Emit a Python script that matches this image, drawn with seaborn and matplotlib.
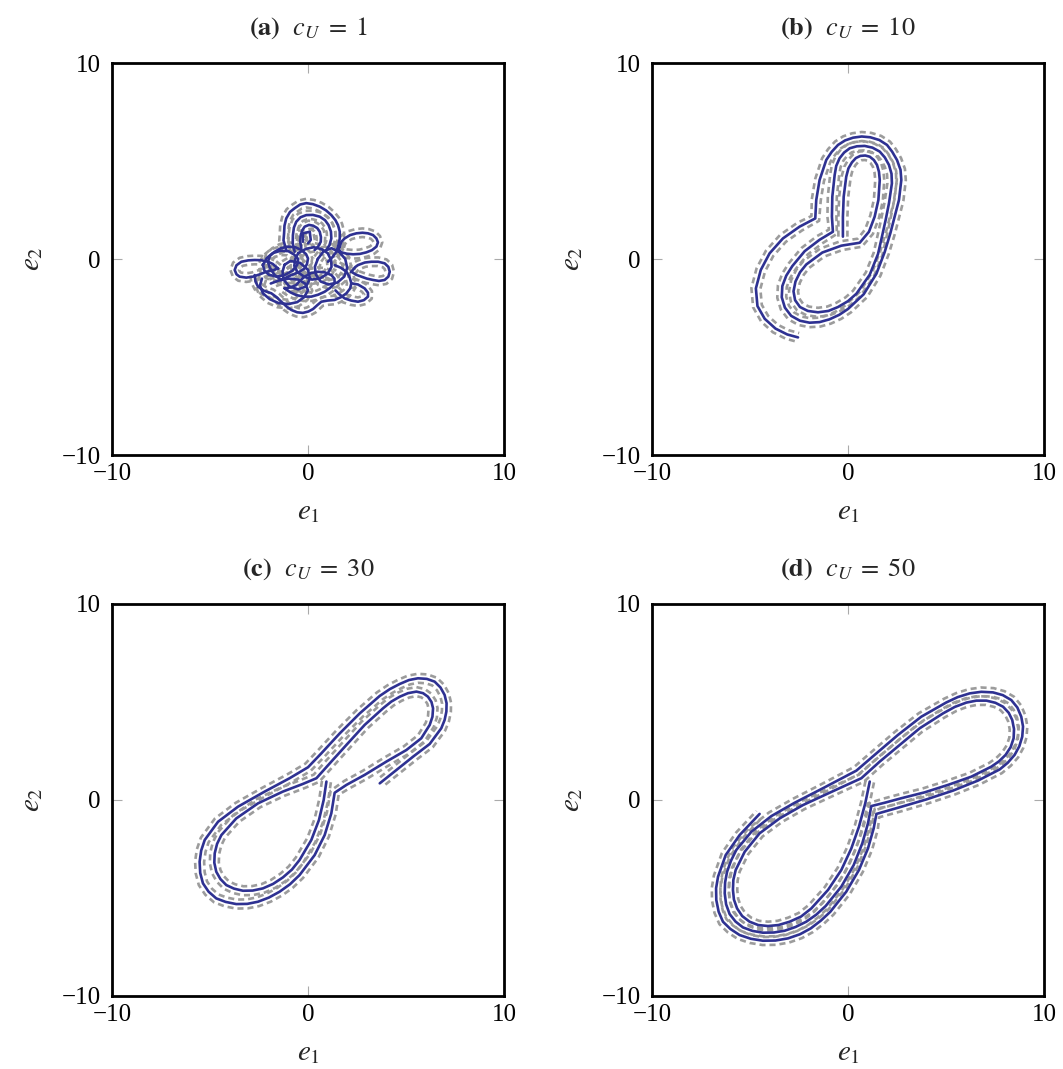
import numpy as np
import pandas as pd
import matplotlib
matplotlib.use("Agg")
import matplotlib.pyplot as plt
import seaborn as sns

# ---------------- data ----------------
TITLES = [r"$\mathbf{(a)}$  $c_U\;=\;1$", r"$\mathbf{(b)}$  $c_U\;=\;10$",
          r"$\mathbf{(c)}$  $c_U\;=\;30$", r"$\mathbf{(d)}$  $c_U\;=\;50$"]
TICKS = [-10, 0, 10]
TUBE_RADIUS = [0.22, 0.23, 0.23, 0.22]

# panel (a): tangled loops, one list per loop
A_E1 = [
    [-1.11, -1.25, -1.22, -1.20, -1.11, -0.92, -0.68, -0.40, -0.09, 0.25, 0.60, 0.92, 1.19, 1.40, 1.53, 1.62, 1.62, 1.55, 1.45, 1.25, 1.02],
    [-0.68, -0.78, -0.77, -0.72, -0.60, -0.38, -0.09, 0.25, 0.60, 0.87, 1.05, 1.17, 1.19, 1.10, 0.94],
    [-0.34, -0.40, -0.37, -0.28, -0.17, 0.05, 0.26, 0.47, 0.60, 0.66, 0.65, 0.52, 0.34],
    [-0.26, -0.26, 0.09, 0.14, 0.00],
    [1.62, 1.70, 1.87, 2.15, 2.47, 2.78, 3.06, 3.32, 3.49, 3.57, 3.49, 3.26, 2.98, 2.65, 2.30, 1.98, 1.70, 1.55, 1.62],
    [2.21, 2.40, 2.55, 2.90, 3.23, 3.58, 3.91, 4.10, 4.17, 4.10, 3.91, 3.62, 3.32, 3.00, 2.72, 2.45, 2.21],
    [-1.53, -1.80, -2.04, -2.40, -2.72, -3.05, -3.40, -3.65, -3.74, -3.65, -3.49, -3.15, -2.81, -2.45, -2.13, -1.80, -1.53],
    [-2.72, -2.68, -2.55, -2.25, -1.87, -1.60, -1.36, -1.10, -0.85, -0.55, -0.26, 0.02, 0.26, 0.48, 0.68, 1.00, 1.36, 1.68, 1.96, 2.15, 2.21, 2.12, 1.96, 1.68, 1.36],
    [-1.36, -1.70, -1.95, -2.04, -1.95, -1.70, -1.38, -1.02, -0.65, -0.34, -0.10, 0.00, -0.05, -0.17, -0.48, -0.85, -1.12, -1.36],
    [-1.19, -0.90, -0.60, -0.22, 0.17, 0.52, 0.85, 1.12, 1.36, 1.35, 1.19, 0.85, 0.51, 0.15, -0.17, -0.40, -0.60, -0.90, -1.19],
    [2.21, 2.55, 2.89, 3.06, 3.06, 2.85, 2.55, 2.20, 1.87, 1.60, 1.40],
    [-2.30, -2.10, -1.80, -1.40, -1.00, -0.70, -0.50, -0.55, -0.80, -1.20, -1.60, -2.00, -2.22, -2.30],
    [-0.50, -0.10, 0.30, 0.70, 1.00, 1.18, 1.20, 1.00, 0.60, 0.20, -0.20, -0.55, -0.70, -0.65, -0.50],
    [0.50, 0.80, 1.20, 1.60, 1.90, 2.00, 1.85, 1.50, 1.05, 0.65, 0.40, 0.35, 0.50],
    [-2.35, -2.45, -2.30, -1.95, -1.50, -1.00, -0.55, -0.20, 0.00, -0.15, -0.50, -1.00, -1.50, -1.90],
    [-1.20, -0.90, -0.40, 0.00, 0.10, -0.10, -0.50, -0.95, -1.25, -1.30, -1.20],
]
A_E2 = [
    [0.46, 0.95, 1.31, 1.70, 2.07, 2.40, 2.59, 2.78, 2.85, 2.80, 2.67, 2.48, 2.24, 1.98, 1.73, 1.40, 1.05, 0.70, 0.37, 0.10, -0.14],
    [0.37, 0.80, 1.22, 1.60, 1.90, 2.13, 2.24, 2.25, 2.16, 1.98, 1.73, 1.40, 1.05, 0.72, 0.46],
    [0.54, 0.90, 1.22, 1.48, 1.65, 1.74, 1.70, 1.58, 1.39, 1.12, 0.88, 0.64, 0.46],
    [0.88, 1.31, 1.39, 0.97, 0.80],
    [0.63, 0.88, 1.05, 1.22, 1.31, 1.34, 1.31, 1.22, 1.05, 0.85, 0.63, 0.45, 0.34, 0.26, 0.24, 0.27, 0.34, 0.50, 0.63],
    [-0.65, -0.42, -0.31, -0.18, -0.14, -0.14, -0.22, -0.40, -0.65, -0.90, -1.07, -1.12, -1.07, -1.00, -0.90, -0.80, -0.65],
    [-0.48, -0.25, -0.14, -0.06, -0.05, -0.07, -0.14, -0.32, -0.56, -0.78, -0.90, -0.95, -0.90, -0.78, -0.65, -0.58, -0.48],
    [-0.82, -1.15, -1.41, -1.62, -1.75, -1.95, -2.18, -2.42, -2.60, -2.72, -2.75, -2.68, -2.55, -2.35, -2.18, -2.12, -2.09, -1.95, -1.75, -1.50, -1.24, -0.92, -0.65, -0.45, -0.31],
    [-1.07, -0.82, -0.45, -0.14, 0.15, 0.37, 0.55, 0.63, 0.60, 0.46, 0.25, 0.03, -0.25, -0.48, -0.68, -0.82, -0.95, -1.07],
    [-1.50, -1.70, -1.84, -1.92, -1.92, -1.82, -1.67, -1.48, -1.24, -1.00, -0.82, -0.68, -0.65, -0.72, -0.90, -1.10, -1.33, -1.45, -1.50],
    [-1.24, -1.30, -1.50, -1.72, -1.92, -2.10, -2.18, -2.12, -2.01, -1.80, -1.60],
    [-0.30, 0.05, 0.30, 0.42, 0.40, 0.22, 0.00, -0.30, -0.60, -0.82, -0.90, -0.80, -0.60, -0.30],
    [0.30, 0.52, 0.60, 0.50, 0.30, -0.05, -0.40, -0.75, -1.00, -1.05, -0.90, -0.65, -0.35, 0.00, 0.30],
    [0.00, 0.40, 0.55, 0.35, 0.00, -0.45, -0.90, -1.20, -1.30, -1.15, -0.80, -0.40, 0.00],
    [-1.00, -1.35, -1.75, -2.05, -2.25, -2.30, -2.20, -1.95, -1.60, -1.25, -1.05, -1.00, -1.10, -1.25],
    [-0.30, -0.10, -0.20, -0.55, -1.00, -1.40, -1.55, -1.40, -1.05, -0.65, -0.30],
]

# panel (b)
B_E1 = [-0.26, -0.26, -0.22, -0.09, 0.02, 0.20, 0.40, 0.63, 0.88, 1.11, 1.32, 1.48, 1.58, 1.62, 1.55, 1.36, 1.07, 0.60,
        -0.34, -1.31, -2.13, -2.45, -2.68, -2.78, -2.70, -2.45, -2.05, -1.53, -1.00, -0.51, 0.00, 0.43, 1.11, 1.53, 1.75, 1.92,
        2.09, 2.24, 2.22, 2.09, 1.88, 1.62, 1.25, 0.85, 0.45, 0.09, -0.20, -0.43, -0.60, -0.68, -0.80, -0.82, -0.77,
        -1.45, -2.21, -2.84, -3.15, -3.35, -3.38, -3.22, -2.90, -2.45, -1.96, -1.45, -0.95, -0.45, 0.00, 0.80, 1.45, 1.87, 2.16, 2.38,
        2.60, 2.72, 2.68, 2.50, 2.25, 1.99, 1.60, 1.14, 0.70, 0.26, -0.15, -0.51, -0.83, -1.11, -1.45, -1.62, -1.67,
        -2.47, -3.32, -4.00, -4.45, -4.70, -4.62, -4.25, -3.70, -3.10, -2.55]
B_E2 = [1.14, 2.16, 3.18, 4.20, 4.62, 4.93, 5.15, 5.26, 5.28, 5.22, 5.05, 4.80, 4.45, 4.03, 3.01, 2.16, 1.39, 0.83,
        0.68, 0.33, -0.28, -0.68, -1.15, -1.65, -2.10, -2.45, -2.65, -2.72, -2.65, -2.45, -2.15, -1.77, -0.80, 0.25, 1.22, 1.99,
        2.84, 3.86, 4.35, 4.80, 5.18, 5.48, 5.68, 5.77, 5.75, 5.65, 5.43, 5.14, 4.75, 4.29, 3.18, 2.16, 1.39,
        0.98, 0.40, -0.36, -0.85, -1.38, -1.95, -2.48, -2.90, -3.15, -3.25, -3.22, -3.08, -2.85, -2.55, -1.80, -0.75, 0.35, 1.31, 2.16,
        3.01, 4.03, 4.55, 5.05, 5.48, 5.82, 6.07, 6.21, 6.25, 6.19, 6.05, 5.82, 5.47, 5.05, 4.03, 3.01, 2.07,
        1.65, 1.05, 0.29, -0.56, -1.50, -2.40, -3.05, -3.55, -3.85, -4.00]

# panel (c)
C_E1 = [0.94, 0.80, 0.56, 0.17, -0.43, -0.82, -1.28, -1.78, -2.30, -2.82, -3.32, -3.78, -4.17, -4.47, -4.68, -4.78, -4.76, -4.64, -4.42, -3.66, -2.55, -1.28, -0.26, 0.43,
        1.11, 1.96, 2.89, 3.83, 4.25, 4.68, 5.10, 5.53, 5.87, 6.12, 6.30, 6.38, 6.35, 6.21, 5.78, 5.02, 4.00, 2.89, 1.96, 1.36,
        1.19, 0.85, 0.34, -0.43, -0.92, -1.45, -2.00, -2.55, -3.10, -3.66, -4.20, -4.68, -5.07, -5.36, -5.50, -5.53, -5.45, -5.27, -4.59, -3.57, -2.21, -0.94, 0.00,
        0.68, 1.62, 2.64, 3.66, 4.18, 4.68, 5.15, 5.61, 6.06, 6.46, 6.76, 6.97, 7.07, 7.06, 6.97, 6.80, 6.21, 5.36, 4.51, 3.66]
C_E2 = [0.94, 0.00, -1.02, -2.04, -3.06, -3.55, -3.95, -4.28, -4.51, -4.62, -4.63, -4.52, -4.34, -4.03, -3.66, -3.20, -2.72, -2.24, -1.79, -0.94, -0.17, 0.43, 0.82, 1.11,
        1.87, 2.81, 3.83, 4.68, 5.02, 5.27, 5.45, 5.53, 5.45, 5.27, 5.00, 4.68, 4.25, 3.83, 3.15, 2.55, 1.96, 1.28, 0.77, 0.37,
        -0.68, -1.79, -2.81, -3.83, -4.30, -4.68, -4.98, -5.19, -5.30, -5.31, -5.20, -5.02, -4.68, -4.25, -3.72, -3.15, -2.58, -2.04, -1.11, -0.34, 0.43, 1.11, 1.67,
        2.38, 3.40, 4.42, 5.31, 5.66, 5.92, 6.12, 6.21, 6.18, 6.04, 5.74, 5.36, 4.94, 4.51, 4.08, 3.66, 2.86, 2.21, 1.53, 0.85]

# panel (d)
D_E1 = [1.11, 0.88, 0.56, 0.17, -0.34, -1.02, -1.87, -2.40, -2.98, -3.55, -4.08, -4.58, -5.02, -5.40, -5.66, -5.82, -5.87, -5.85, -5.73, -5.27, -4.51, -3.49, -2.30, -0.94, 0.68,
        1.62, 2.64, 3.66, 4.85, 5.45, 6.04, 6.55, 7.06, 7.52, 7.91, 8.20, 8.38, 8.47, 8.45, 8.30, 8.04, 7.70, 7.31, 6.29, 5.10, 3.91, 2.72, 1.87, 1.19,
        1.02, 0.73, 0.29, -0.34, -1.14, -1.62, -2.13, -2.68, -3.23, -3.78, -4.34, -4.87, -5.36, -5.74, -6.04, -6.22, -6.29, -6.27, -6.17, -5.97, -5.70, -4.93, -3.91, -2.72, -1.28, 0.43,
        1.45, 2.55, 3.74, 5.02, 5.60, 6.21, 6.80, 7.40, 7.90, 8.33, 8.64, 8.84, 8.93, 8.89, 8.74, 8.50, 8.15, 7.74, 6.63, 5.36, 4.00, 2.64, 1.45,
        1.31, 1.02, 0.56, -0.09, -0.90, -1.38, -1.90, -2.45, -3.06, -3.70, -4.34, -4.96, -5.53, -6.00, -6.38, -6.60, -6.72, -6.73, -6.63, -6.24, -5.53, -4.51]
D_E2 = [0.94, -0.17, -1.36, -2.47, -3.57, -4.59, -5.53, -5.95, -6.21, -6.38, -6.43, -6.38, -6.21, -5.92, -5.53, -5.08, -4.59, -4.08, -3.57, -2.64, -1.70, -0.94, -0.26, 0.37, 1.11,
        1.96, 2.81, 3.66, 4.42, 4.75, 4.97, 5.07, 5.07, 4.96, 4.76, 4.45, 4.08, 3.62, 3.15, 2.70, 2.30, 1.97, 1.70, 1.19, 0.77, 0.39, 0.09, -0.14, -0.31,
        -1.19, -2.21, -3.32, -4.42, -5.41, -5.85, -6.21, -6.48, -6.67, -6.76, -6.77, -6.68, -6.50, -6.20, -5.82, -5.32, -4.76, -4.20, -3.66, -3.10, -2.55, -1.62, -0.82, -0.14, 0.60, 1.50,
        2.38, 3.32, 4.25, 4.98, 5.25, 5.44, 5.52, 5.49, 5.35, 5.10, 4.72, 4.25, 3.75, 3.23, 2.74, 2.30, 1.90, 1.56, 0.99, 0.48, 0.03, -0.37, -0.71,
        -1.45, -2.47, -3.57, -4.68, -5.70, -6.15, -6.55, -6.85, -7.06, -7.17, -7.18, -7.08, -6.89, -6.58, -6.21, -5.70, -5.10, -4.50, -3.91, -2.81, -1.79, -0.71]

# ---------------- styling ----------------
sns.set_theme(style="white")
plt.rcParams.update({
    "font.family": ["Liberation Serif", "DejaVu Serif"],
    "mathtext.fontset": "stix",
    "axes.unicode_minus": True,
})

BLUE = "#2E3192"
GRAY = "#9C9C9C"


def tube_bounds(e1, e2, r):
    x = np.asarray(e1, float)
    y = np.asarray(e2, float)
    dx, dy = np.gradient(x), np.gradient(y)
    n = np.hypot(dx, dy)
    n[n == 0] = 1.0
    nx, ny = -dy / n, dx / n
    return (x + r * nx, y + r * ny), (x - r * nx, y - r * ny)


def panel_frames(loops_e1, loops_e2, r):
    traj_rows, bound_rows = [], []
    for k, (e1, e2) in enumerate(zip(loops_e1, loops_e2)):
        traj_rows.append(pd.DataFrame({"seg": k, "e1": e1, "e2": e2}))
        (ux, uy), (lx, ly) = tube_bounds(e1, e2, r)
        bound_rows.append(pd.DataFrame({"seg": f"{k}u", "e1": ux, "e2": uy}))
        bound_rows.append(pd.DataFrame({"seg": f"{k}l", "e1": lx, "e2": ly}))
    return pd.concat(traj_rows, ignore_index=True), pd.concat(bound_rows, ignore_index=True)


PANELS = [(A_E1, A_E2), ([B_E1], [B_E2]), ([C_E1], [C_E2]), ([D_E1], [D_E2])]

W, H = 1063, 1069
fig = plt.figure(figsize=(W / 100, H / 100), dpi=100)
lefts = [112, 652, 112, 652]
tops = [63, 63, 604, 604]
size = 392


def fmt(t):
    return f"{t}" if t >= 0 else f"\u2212{-t}"


for i, (e1s, e2s) in enumerate(PANELS):
    ax = fig.add_axes([lefts[i] / W, (H - tops[i] - size) / H, size / W, size / H])
    traj, bounds = panel_frames(e1s, e2s, TUBE_RADIUS[i])
    sns.lineplot(data=bounds, x="e1", y="e2", units="seg", estimator=None, sort=False,
                 color=GRAY, lw=1.9, linestyle=(0, (2.3, 1.5)), ax=ax)
    sns.lineplot(data=traj, x="e1", y="e2", units="seg", estimator=None, sort=False,
                 color=BLUE, lw=1.9, ax=ax, solid_joinstyle="round")
    ax.set_xlim(-10, 10)
    ax.set_ylim(-10, 10)
    ax.set_xticks(TICKS)
    ax.set_yticks(TICKS)
    ax.set_xticklabels([fmt(t) for t in TICKS])
    ax.set_yticklabels([fmt(t) for t in TICKS])
    ax.tick_params(direction="in", length=7, width=0.8, color="#AAAAAA",
                   top=True, right=True, bottom=True, left=True,
                   labelsize=18, labelcolor="black")
    ax.tick_params(axis="x", pad=6)
    ax.tick_params(axis="y", pad=8)
    for sp in ax.spines.values():
        sp.set_visible(True)
        sp.set_color("black")
        sp.set_linewidth(2.0)
    ax.set_xlabel(r"$e_1$", fontsize=21, labelpad=10)
    ax.set_ylabel(r"$e_2$", fontsize=21, labelpad=12)
    ax.set_title(TITLES[i], fontsize=19, pad=20)
    ax.grid(False)

fig.savefig("out.png", dpi=100)
